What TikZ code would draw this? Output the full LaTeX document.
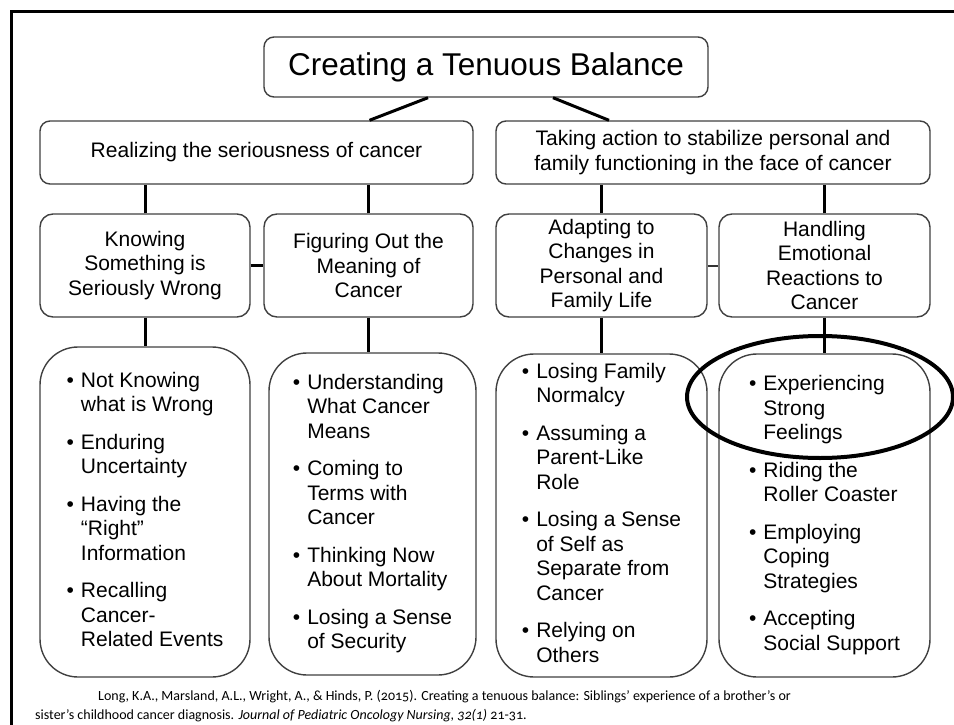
\documentclass[tikz,border=0pt]{standalone}
\usepackage{fontspec}
\setmainfont{Liberation Sans}
\newfontfamily\citefont{Carlito}[Numbers=OldStyle]
\usetikzlibrary{positioning}

\begin{document}
\begin{tikzpicture}[
    x=1pt, y=-1pt,
    box/.style={draw=black!75, line width=1.4pt, fill=white, rounded corners=10pt, align=center, inner sep=0pt,
      font=\fontsize{21}{24.5}\selectfont},
    topicbox/.style={box, rounded corners=13pt},
    listbox/.style={box, rounded corners=38pt, align=left},
    link/.style={line width=3pt},
]
\useasboundingbox (0,0) rectangle (954,725);

% frame along the top and left
\draw[line width=3pt] (11,725) -- (11,12) -- (954,12);

% core category
\node[box, minimum width=444pt, minimum height=60pt, font=\fontsize{31.5}{36}\selectfont] (balance) at (486,67) {Creating a Tenuous Balance};

% two main processes
\node[box, minimum width=433pt, minimum height=63pt] (realize) at (256.5,152.5) {Realizing the seriousness of cancer};
\node[box, minimum width=434pt, minimum height=63pt] (stabilize) at (713,152.5) {Taking action to stabilize personal and\\family functioning in the face of cancer};
\draw[link] ([xshift=-58pt]balance.south) -- ([xshift=113pt]realize.north);
\draw[link] ([xshift=67pt]balance.south) -- ([xshift=-104pt]stabilize.north);

% sub-processes
\node[topicbox, minimum width=210pt, minimum height=103pt] (knowing) at (145,265.5) {Knowing\\Something is\\Seriously Wrong};
\node[topicbox, minimum width=209pt, minimum height=103pt] (meaning) at (368.5,265.5) {Figuring Out the\\Meaning of\\Cancer};
\node[topicbox, minimum width=211pt, minimum height=103pt] (adapting) at (601.5,265.5) {Adapting to\\Changes in\\Personal and\\Family Life};
\node[topicbox, minimum width=211pt, minimum height=103pt] (handling) at (824.5,265.5) {Handling\\Emotional\\Reactions to\\Cancer};

\draw[link] (knowing.north) -- (knowing.north |- realize.south);
\draw[link] (meaning.north) -- (meaning.north |- realize.south);
\draw[link] (adapting.north) -- (adapting.north |- stabilize.south);
\draw[link] (handling.north) -- (handling.north |- stabilize.south);
\draw[link] (knowing.east) -- (meaning.west);
\draw[line width=2pt, black!80] (adapting.east) -- (handling.west);

% lists of categories
\node[listbox, minimum width=210pt, minimum height=330pt] (wrong) at (145,512) {%
  \begin{tabular}{@{}l@{\hspace{7pt}}l@{}}
  \textbullet & Not Knowing\\ & what is Wrong\\[13pt]
  \textbullet & Enduring\\ & Uncertainty\\[13pt]
  \textbullet & Having the\\ & “Right”\\ & Information\\[13pt]
  \textbullet & Recalling\\ & Cancer-\\ & Related Events
  \end{tabular}};
\node[listbox, minimum width=207pt, minimum height=322pt] (mean) at (372.5,514) {%
  \begin{tabular}{@{}l@{\hspace{7pt}}l@{}}
  \textbullet & Understanding\\ & What Cancer\\ & Means\\[13pt]
  \textbullet & Coming to\\ & Terms with\\ & Cancer\\[13pt]
  \textbullet & Thinking Now\\ & About Mortality\\[13pt]
  \textbullet & Losing a Sense\\ & of Security
  \end{tabular}};
\node[listbox, minimum width=211pt, minimum height=323pt] (family) at (601.5,515.5) {%
  \begin{tabular}{@{}l@{\hspace{7pt}}l@{}}
  \textbullet & Losing Family\\ & Normalcy\\[13pt]
  \textbullet & Assuming a\\ & Parent-Like\\ & Role\\[13pt]
  \textbullet & Losing a Sense\\ & of Self as\\ & Separate from\\ & Cancer\\[13pt]
  \textbullet & Relying on\\ & Others
  \end{tabular}};
\node[listbox, minimum width=211pt, minimum height=323pt] (feelings) at (824.5,515.5) {%
  \begin{tabular}{@{}l@{\hspace{7pt}}l@{}}
  \textbullet & Experiencing\\ & Strong\\ & Feelings\\[13pt]
  \textbullet & Riding the\\ & Roller Coaster\\[13pt]
  \textbullet & Employing\\ & Coping\\ & Strategies\\[13pt]
  \textbullet & Accepting\\ & Social Support
  \end{tabular}};

\draw[link] (knowing.south) -- (wrong.north);
\draw[link] (meaning.south) -- (mean.north -| meaning.south);
\draw[link] (adapting.south) -- (family.north);
\draw[link] (handling.south) -- (feelings.north);

% ring round the first item
\draw[line width=4pt] (820,397) ellipse [x radius=133pt, y radius=61pt];

% source
\node[anchor=north west, align=left, inner sep=0pt, font=\citefont\fontsize{14}{19}\selectfont] (source) at (35,690) {%
  \hspace*{63pt}Long, K.A., Marsland, A.L., Wright, A., \& Hinds, P. (2015). Creating a tenuous balance: Siblings’ experience of a brother’s or\\
  sister’s childhood cancer diagnosis. \textit{Journal of Pediatric Oncology Nursing, 32(1)} 21-31.};
\end{tikzpicture}
\end{document}
